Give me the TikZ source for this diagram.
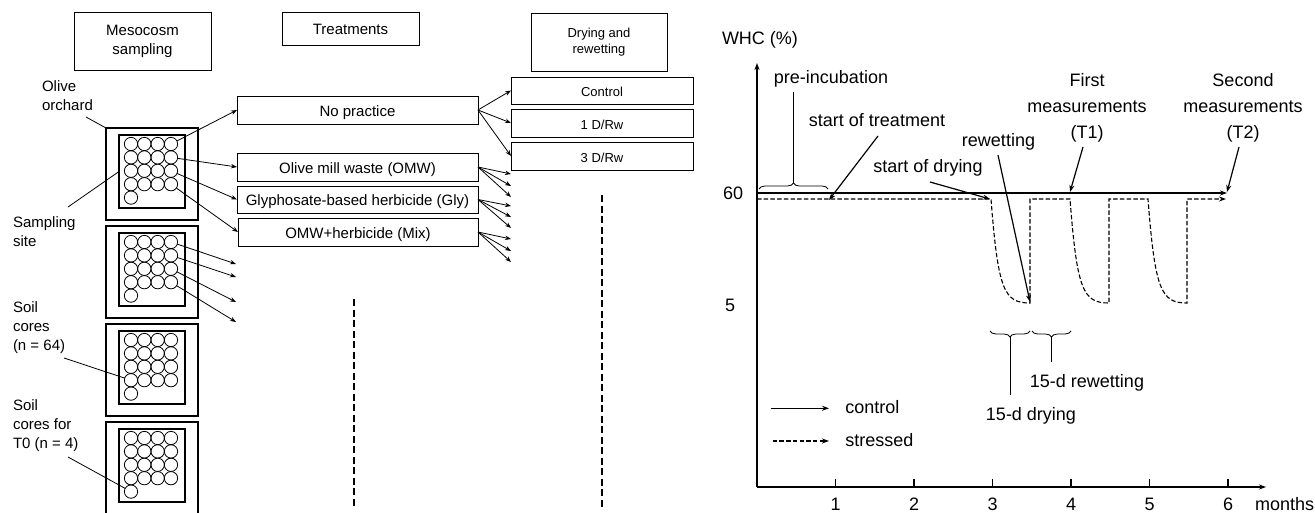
\documentclass[tikz,border=0pt]{standalone}
\usepackage{fontspec}
\setmainfont{Liberation Sans}
\usetikzlibrary{arrows.meta,decorations.pathreplacing}
\begin{document}
\begin{tikzpicture}[x=1pt,y=-1pt,
  every node/.style={inner sep=0pt,outer sep=0pt},
  f15/.style={font=\fontsize{15}{19}\selectfont},
  f13/.style={font=\fontsize{13}{16}\selectfont},
  f18/.style={font=\fontsize{18}{26}\selectfont},
  box/.style={draw,line width=0.9pt},
  tbox/.style={box,f15,text height=12.8pt,text depth=0pt},
  dbox/.style={box,f13,text height=12.4pt,text depth=0pt,minimum width=182pt},
  arr/.style={line width=0.8pt,-{Stealth[length=6pt,width=4.5pt]}},
  outerb/.style={draw,line width=2.4pt,minimum width=92pt,minimum height=92pt},
  innerb/.style={draw,line width=2pt,minimum width=66pt,minimum height=73pt},
  core/.style={draw,circle,line width=0.8pt,minimum size=13.3pt},
  lead/.style={line width=0.8pt},
  gax/.style={line width=1.3pt},
  garr/.style={line width=1.2pt,-{Stealth[length=7pt,width=5pt]}},
  stress/.style={line width=1.1pt,dash pattern=on 4.5pt off 2.2pt},
  vdash/.style={line width=2.4pt,dash pattern=on 7pt off 3.5pt},
]
\useasboundingbox (0,0) rectangle (1315,512);

% ---------- header boxes ----------
\node[box,f15,align=center,minimum width=137pt,minimum height=58pt] (meso) at (142.5,41) {Mesocosm\\sampling};
\node[tbox,minimum width=137pt,minimum height=33pt] (treat) at (350.5,28.5) {Treatments};
\node[box,f13,align=center,minimum width=136pt,minimum height=58pt] (dry) at (599,42) {Drying and\\rewetting};

% ---------- treatment boxes ----------
\node[tbox,minimum width=241pt,minimum height=28pt] (np) at (357.5,110) {No practice};
\node[tbox,minimum width=241pt,minimum height=28pt] (omw) at (357.5,167) {Olive mill waste (OMW)};
\node[tbox,minimum width=241pt,minimum height=27pt] (gly) at (357.5,199.5) {Glyphosate-based herbicide (Gly)};
\node[tbox,minimum width=240pt,minimum height=28pt] (mix) at (358,232) {OMW+herbicide (Mix)};

% ---------- drying boxes ----------
\node[dbox,minimum height=27pt] (ctrl) at (602,90.5) {Control};
\node[dbox,minimum height=28pt] (d1) at (602,123) {1 D/Rw};
\node[dbox,minimum height=28pt] (d3) at (602,156) {3 D/Rw};

\draw[arr] (np.east) -- (ctrl.west);
\draw[arr] (np.east) -- (d1.west);
\draw[arr] (np.east) -- (d3.west);

\coordinate (o1) at (511,174); \coordinate (o2) at (511,186); \coordinate (o3) at (511,197);
\coordinate (g1) at (511,206); \coordinate (g2) at (511,217); \coordinate (g3) at (511,228);
\coordinate (m1) at (511,239); \coordinate (m2) at (511,251); \coordinate (m3) at (511,262);
\foreach \k in {1,2,3}{
  \draw[arr] (omw.east) -- (o\k);
  \draw[arr] (gly.east) -- (g\k);
  \draw[arr] (mix.east) -- (m\k);
}

% ---------- mesocosms ----------
\foreach \b/\T in {1/128,2/226,3/324,4/422}{
  \foreach \r in {1,...,4}{
    \foreach \c in {1,...,4}{
      \node[core] (c\b-\r-\c) at ({131+13.33*(\c-1)},{\T+16+13.4*(\r-1)}) {};
    }
  }
  \node[core] (c\b-5-1) at (131,{\T+16+53.6}) {};
  \node[innerb] (in\b) at (152,{\T+43.5}) {};
}
\node[outerb] (out1) at (152,174) {};
\node[outerb] (out2) at (152,272) {};
\node[outerb] (out3) at (152,370) {};
\draw[line width=2.4pt] (106,525) -- (106,422) -- (198,422) -- (198,525);

\draw[arr] (c1-1-4) -- (np.west);
\draw[arr] (c1-2-4) -- (omw.west);
\draw[arr] (c1-3-4) -- (gly.west);
\draw[arr] (c1-4-4) -- (mix.west);

\coordinate (e1) at (236,264); \coordinate (e2) at (236,277);
\coordinate (e3) at (236,302); \coordinate (e4) at (236,322);
\foreach \r in {1,...,4}{ \draw[arr] (c2-\r-4) -- (e\r); }

\draw[vdash] (354,299) -- (354,507);
\draw[vdash] (602,195) -- (602,507);

% ---------- left labels (base = last line) ----------
\node[f15,align=left,anchor=base west] (olive) at (42,110) {Olive\\orchard};
\node[f15,align=left,anchor=base west] (samp) at (13,246.7) {Sampling\\site};
\node[f15,align=left,anchor=base west] (soil) at (13,350) {Soil\\cores\\(n = 64)};
\node[f15,align=left,anchor=base west] (soilt) at (13,448.3) {Soil\\cores for\\T0 (n = 4)};
\coordinate (oliveL) at (86,117);
\coordinate (sampL) at (68,207);
\coordinate (soilL) at (64,358);
\coordinate (soiltL) at (68,457);
\draw[lead] (oliveL) -- (out1.north west);
\draw[lead] (sampL) -- (in1.west);
\draw[lead] (soilL) -- (c3-4-1);
\draw[lead] (soiltL) -- (c4-5-1);

% ---------- graph ----------
\coordinate (O) at (757,487);
\coordinate (ytop) at (757,63);
\coordinate (xend) at (1266,487);
\draw[gax,-{Stealth[length=7pt,width=5pt]}] (O) -- (ytop);
\draw[gax,-{Stealth[length=7pt,width=5pt]}] (O) -- (xend);
\foreach \m in {1,...,6}{
  \draw[gax] ({757+78.5*\m},487) -- ({757+78.5*\m},479);
  \node[f18,anchor=base] (tick\m) at ({757+78.5*\m},510) {\m};
}
\node[f18,anchor=base west] (months) at (1255,510) {months};
\node[f18,anchor=base west] (whc) at (722,44.5) {WHC (\%)};
\node[f18,anchor=base west] (y60) at (723,199) {60};
\node[f18,anchor=base west] (y5) at (725,311.5) {5};

\coordinate (cs) at (757,193); \coordinate (ce) at (1227,193);
\draw[garr] (cs) -- (ce);
\coordinate (ss) at (757,199);
\draw[stress,-{Stealth[length=7pt,width=5pt]}] (ss) -- (991,199)
  .. controls (998,290) and (1004,303) .. (1030,303) -- (1030,199) -- (1070,199)
  .. controls (1077,290) and (1083,303) .. (1109,303) -- (1109,199) -- (1148,199)
  .. controls (1155,290) and (1161,303) .. (1187,303) -- (1187,199) -- (1226,199);

% braces
\draw[lead,decorate,decoration={brace,amplitude=6pt}] (759,189) -- (828,189);
\coordinate (pbt) at (793.5,183); \coordinate (pbl) at (793.5,92);
\draw[lead] (pbt) -- (pbl);
\draw[lead,decorate,decoration={brace,amplitude=6pt}] (1030,331) -- (990,331);
\draw[lead,decorate,decoration={brace,amplitude=6pt}] (1071,331) -- (1032,331);
\coordinate (db1) at (1010,337); \coordinate (db2) at (1010,395);
\coordinate (rb1) at (1051.5,337); \coordinate (rb2) at (1051.5,362);
\draw[lead] (db1) -- (db2);
\draw[lead] (rb1) -- (rb2);

% text
\node[f18,anchor=base] (preinc) at (831,83.3) {pre-incubation};
\node[f18,anchor=base] (sot) at (877,126) {start of treatment};
\node[f18,anchor=base] (sod) at (928,172.7) {start of drying};
\node[f18,anchor=base] (rew) at (998.5,146.7) {rewetting};
\node[f18,anchor=base,align=center] (t1) at (1087,138) {First\\measurements\\(T1)};
\node[f18,anchor=base,align=center] (t2) at (1243,138) {Second\\measurements\\(T2)};
\node[f18,anchor=base] (rw15) at (1087,387) {15-d rewetting};
\node[f18,anchor=base] (dr15) at (1031,420.7) {15-d drying};

\coordinate (sotA) at (878,136); \coordinate (sotB) at (829,200);
\draw[garr] (sotA) -- (sotB);
\coordinate (sodA) at (930,182); \coordinate (sodB) at (990,199);
\draw[garr] (sodA) -- (sodB);
\coordinate (rewA) at (998,155); \coordinate (rewB) at (1030,302);
\draw[garr] (rewA) -- (rewB);
\coordinate (t1A) at (1083,147); \coordinate (t1B) at (1070,192);
\draw[garr] (t1A) -- (t1B);
\coordinate (t2A) at (1239,147); \coordinate (t2B) at (1227,192);
\draw[garr] (t2A) -- (t2B);

% legend
\coordinate (lc1) at (770.7,408.3); \coordinate (lc2) at (829,408.3);
\draw[garr] (lc1) -- (lc2);
\coordinate (ls1) at (772.7,441); \coordinate (ls2) at (829,441);
\draw[stress,-{Stealth[length=7pt,width=5pt]}] (ls1) -- (ls2);
\node[f18,anchor=base west] (lc) at (845.4,413.3) {control};
\node[f18,anchor=base west] (ls) at (845.4,446.7) {stressed};
\end{tikzpicture}
\end{document}
